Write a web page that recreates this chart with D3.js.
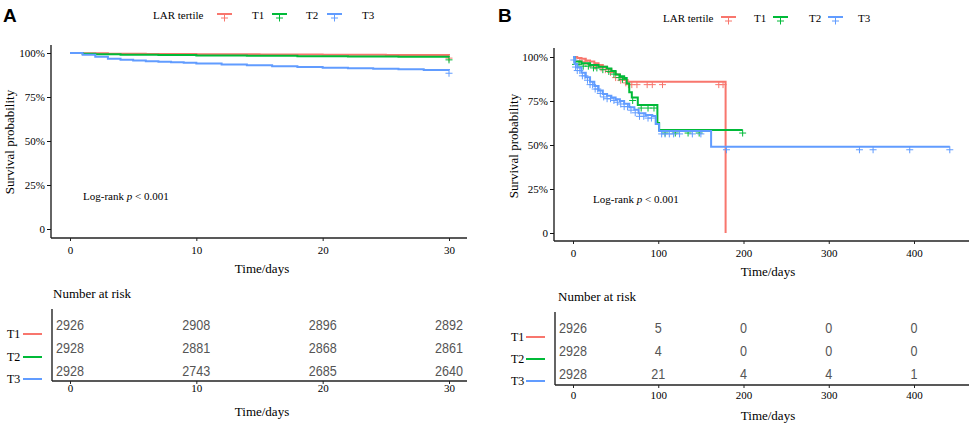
<!DOCTYPE html>
<html>
<head>
<meta charset="utf-8">
<script src="https://cdn.jsdelivr.net/npm/d3@7"></script>
<style>
  body { margin: 0; background: #fff; }
  svg { display: block; }
  .serif { font-family: "Liberation Serif", "Times New Roman", serif; fill: #000; }
  .risk { font-family: "Liberation Sans", Arial, sans-serif; fill: #555; }
</style>
</head>
<body>
<svg id="chart" width="972" height="424"></svg>
<script>
const groups = ["T1", "T2", "T3"];
const colors = ["#F8766D", "#00BA38", "#619CFF"];

// panel A: 30-day survival
const aTicks = [0, 10, 20, 30];
const aT1Time = [0, 1, 3, 6, 10, 15, 20, 25, 30];
const aT1Surv = [1, 0.998, 0.996, 0.995, 0.993, 0.991, 0.99, 0.989, 0.988];
const aT2Time = [0, 1, 2, 4, 7, 10, 14, 18, 22, 26, 30];
const aT2Surv = [1, 0.996, 0.993, 0.99, 0.988, 0.986, 0.984, 0.982, 0.98, 0.979, 0.978];
const aT3Time = [0, 1, 2, 3, 4, 5, 6, 7, 8, 9, 10, 12, 14, 16, 18, 20, 22, 24, 26, 28, 30];
const aT3Surv = [1, 0.99, 0.978, 0.968, 0.962, 0.957, 0.953, 0.95, 0.947, 0.944, 0.94, 0.935, 0.93, 0.925, 0.92, 0.916, 0.913, 0.91, 0.907, 0.904, 0.902];
const aT1Cens = [30];
const aT2Cens = [30];
const aT3Cens = [30];
const aRisk = [[2926, 2908, 2896, 2892], [2928, 2881, 2868, 2861], [2928, 2743, 2685, 2640]];

// panel B: long-term survival
const bTicks = [0, 100, 200, 300, 400];
const bT1Time = [0, 5, 10, 15, 20, 25, 30, 35, 40, 45, 50, 55, 60, 64, 179];
const bT1Surv = [1, 0.995, 0.99, 0.98, 0.975, 0.965, 0.955, 0.945, 0.93, 0.915, 0.9, 0.885, 0.87, 0.86, 0];
const bT2Time = [0, 2, 10, 20, 30, 40, 45, 50, 55, 60, 63, 66, 69, 76, 99, 101, 199];
const bT2Surv = [1, 0.975, 0.965, 0.955, 0.945, 0.935, 0.92, 0.9, 0.89, 0.88, 0.85, 0.8, 0.77, 0.727, 0.625, 0.585, 0.585];
const bT3Time = [0, 2, 5, 10, 15, 20, 25, 30, 35, 40, 45, 50, 55, 60, 66, 72, 77, 85, 93, 97, 101, 162, 442];
const bT3Surv = [1, 0.96, 0.94, 0.91, 0.885, 0.86, 0.835, 0.81, 0.79, 0.78, 0.77, 0.76, 0.75, 0.735, 0.715, 0.7, 0.68, 0.67, 0.665, 0.62, 0.58, 0.49, 0.49];
const bT1Cens = [8, 14, 20, 26, 33, 38, 44, 50, 56, 62, 65, 69, 75, 87, 93, 105, 171, 176];
const bT2Cens = [3, 7, 12, 18, 24, 28, 35, 42, 48, 54, 58, 70, 80, 88, 95, 108, 120, 135, 148, 199];
const bT3Cens = [1, 3, 5, 8, 11, 14, 17, 20, 23, 26, 29, 32, 36, 40, 44, 48, 52, 56, 60, 64, 68, 73, 78, 83, 88, 92, 104, 108, 113, 118, 125, 140, 150, 180, 336, 352, 395, 442];
const bRisk = [[2926, 5, 0, 0, 0], [2928, 4, 0, 0, 0], [2928, 21, 4, 4, 1]];

const yTicks = [0, 0.25, 0.5, 0.75, 1];
const yLabels = ["0", "25%", "50%", "75%", "100%"];

const panels = [
  {
    tag: "A", tagX: 3, xDomain: [30], ticks: aTicks,
    xr: [70, 449], yr: [229, 53], axisL: 51, axisR: 467, axisT: 45, axisB: 238,
    ylabX: 14, tickY: 254, titleY: 273, titleX: 262, pX: 83, pY: 200,
    legX: 153, legY: 19, keyX: [217, 272, 327], labX: [252, 306, 362], keyW: 15,
    curves: [[aT1Time, aT1Surv, aT1Cens], [aT2Time, aT2Surv, aT2Cens], [aT3Time, aT3Surv, aT3Cens]],
    risk: aRisk, nrX: 53, nrY: 298, tabL: 52, tabT: 309, tabB: 381,
    rowY: [330, 353, 376], rlabX: 7, rlabY: [338, 361, 383], rlineX: [23, 42],
    rTickY: 392, rTitleY: 416
  },
  {
    tag: "B", tagX: 498, xDomain: [400], ticks: bTicks,
    xr: [573, 914], yr: [233, 57], axisL: 554, axisR: 969, axisT: 48, axisB: 241,
    ylabX: 518, tickY: 257, titleY: 276, titleX: 768, pX: 593, pY: 203,
    legX: 663, legY: 22, keyX: [721, 773, 828], labX: [754, 809, 858], keyW: 15,
    curves: [[bT1Time, bT1Surv, bT1Cens], [bT2Time, bT2Surv, bT2Cens], [bT3Time, bT3Surv, bT3Cens]],
    risk: bRisk, nrX: 558, nrY: 301, tabL: 555, tabT: 312, tabB: 385,
    rowY: [333, 356, 379], rlabX: 511, rlabY: [341, 363, 385], rlineX: [526, 545],
    rTickY: 399, rTitleY: 420
  }
];

const svg = d3.select("#chart");
const plusPath = "M-3.5,0H3.5M0,-3.5V3.5";

panels.forEach(p => {
  const g = svg.append("g");
  const x = d3.scaleLinear().domain([0, p.xDomain[0]]).range(p.xr);
  const y = d3.scaleLinear().domain([0, 1]).range(p.yr);

  g.append("text").attr("x", p.tagX).attr("y", 22)
    .style("font-family", "Liberation Sans, Arial, sans-serif")
    .style("font-weight", "bold").style("font-size", "19px").text(p.tag);

  // legend
  g.append("text").attr("class", "serif").attr("x", p.legX).attr("y", p.legY)
    .style("font-size", "11px").text("LAR tertile");
  groups.forEach((name, i) => {
    const kx = p.keyX[i];
    g.append("line").attr("x1", kx).attr("x2", kx + p.keyW)
      .attr("y1", p.legY - 5).attr("y2", p.legY - 5)
      .attr("stroke", colors[i]).attr("stroke-width", 2);
    g.append("path").attr("d", plusPath)
      .attr("transform", `translate(${kx + p.keyW / 2},${p.legY - 1})`)
      .attr("stroke", colors[i]).attr("stroke-width", 1).attr("fill", "none");
    g.append("text").attr("class", "serif").attr("x", p.labX[i]).attr("y", p.legY)
      .style("font-size", "11px").text(name);
  });

  // axes
  g.append("line").attr("x1", p.axisL).attr("x2", p.axisL).attr("y1", p.axisT).attr("y2", p.axisB)
    .attr("stroke", "#111").attr("stroke-width", 1.3);
  g.append("line").attr("x1", p.axisL).attr("x2", p.axisR).attr("y1", p.axisB).attr("y2", p.axisB)
    .attr("stroke", "#222").attr("stroke-width", 1.6);

  const yAxis = g.append("g").attr("transform", `translate(${p.axisL},0)`)
    .call(d3.axisLeft(y).tickValues(yTicks).tickFormat((d, i) => yLabels[i]).tickSize(4).tickPadding(2));
  yAxis.select(".domain").remove();
  yAxis.selectAll("text").attr("class", "serif").style("font-size", "11px");
  yAxis.selectAll("line").attr("stroke", "#111");

  const xAxis = g.append("g").attr("transform", `translate(0,${p.axisB})`)
    .call(d3.axisBottom(x).tickValues(p.ticks).tickSize(3).tickPadding(0));
  xAxis.select(".domain").remove();
  xAxis.selectAll("line").attr("stroke", "#222");
  xAxis.selectAll("text").attr("class", "serif").style("font-size", "11px")
    .attr("dy", null).attr("y", p.tickY - p.axisB);

  g.append("text").attr("class", "serif")
    .attr("transform", `translate(${p.ylabX},${(p.yr[0] + p.yr[1]) / 2 + 1}) rotate(-90)`)
    .attr("text-anchor", "middle").style("font-size", "13px").text("Survival probability");
  g.append("text").attr("class", "serif").attr("x", p.titleX).attr("y", p.titleY)
    .attr("text-anchor", "middle").style("font-size", "13px").text("Time/days");

  const pt = g.append("text").attr("class", "serif").attr("x", p.pX).attr("y", p.pY).style("font-size", "11px");
  pt.append("tspan").text("Log-rank ");
  pt.append("tspan").style("font-style", "italic").text("p");
  pt.append("tspan").text(" < 0.001");

  // curves and censor marks
  p.curves.forEach((c, i) => {
    const pts = c[0].map((t, k) => [t, c[1][k]]);
    const line = d3.line().x(d => x(d[0])).y(d => y(d[1])).curve(d3.curveStepAfter);
    g.append("path").datum(pts).attr("d", line)
      .attr("fill", "none").attr("stroke", colors[i]).attr("stroke-width", 2);
    const bis = d3.bisector(d => d).right;
    const survAt = t => c[1][Math.max(0, bis(c[0], t) - 1)];
    g.selectAll(null).data(c[2]).enter().append("path")
      .attr("d", plusPath)
      .attr("transform", t => `translate(${x(t)},${y(survAt(t)) + 3})`)
      .attr("stroke", colors[i]).attr("stroke-width", 1).attr("fill", "none");
  });

  // risk table
  g.append("text").attr("class", "serif").attr("x", p.nrX).attr("y", p.nrY)
    .style("font-size", "13px").text("Number at risk");
  g.append("line").attr("x1", p.tabL).attr("x2", p.tabL).attr("y1", p.tabT).attr("y2", p.tabB)
    .attr("stroke", "#111").attr("stroke-width", 1.3);
  g.append("line").attr("x1", p.tabL).attr("x2", p.axisR).attr("y1", p.tabB).attr("y2", p.tabB)
    .attr("stroke", "#222").attr("stroke-width", 1.6);
  const rAxis = g.append("g").attr("transform", `translate(0,${p.tabB})`)
    .call(d3.axisBottom(x).tickValues(p.ticks).tickSize(3).tickPadding(0));
  rAxis.select(".domain").remove();
  rAxis.selectAll("line").attr("stroke", "#222");
  rAxis.selectAll("text").attr("class", "serif").style("font-size", "11px")
    .attr("dy", null).attr("y", p.rTickY - p.tabB);
  g.append("text").attr("class", "serif").attr("x", p.titleX).attr("y", p.rTitleY)
    .attr("text-anchor", "middle").style("font-size", "13px").text("Time/days");

  p.risk.forEach((row, i) => {
    g.selectAll(null).data(row).enter().append("text")
      .attr("class", "risk").attr("x", (d, k) => x(p.ticks[k])).attr("y", p.rowY[i])
      .attr("text-anchor", "middle").style("font-size", "15px")
      .attr("textLength", d => String(d).length * 7).attr("lengthAdjust", "spacingAndGlyphs")
      .text(d => d);
    g.append("text").attr("class", "serif").attr("x", p.rlabX).attr("y", p.rlabY[i])
      .style("font-size", "12px").text(groups[i]);
    g.append("line").attr("x1", p.rlineX[0]).attr("x2", p.rlineX[1])
      .attr("y1", p.rlabY[i] - 4).attr("y2", p.rlabY[i] - 4)
      .attr("stroke", colors[i]).attr("stroke-width", 2);
  });
});
</script>
</body>
</html>
